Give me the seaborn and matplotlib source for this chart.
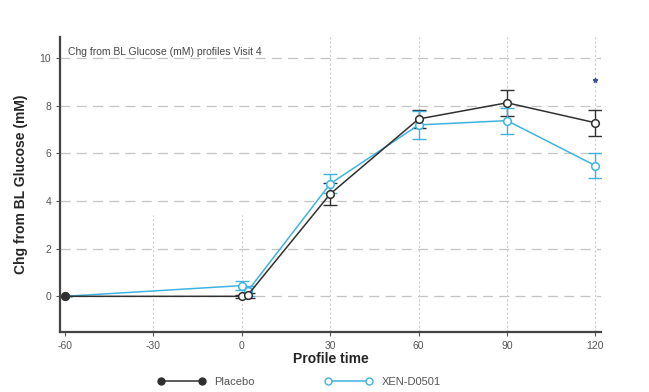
import numpy as np
import pandas as pd
import matplotlib
matplotlib.use("Agg")
import matplotlib.pyplot as plt
from matplotlib.lines import Line2D
import seaborn as sns

# Data
time = [-60, 0, 2, 30, 60, 90, 120]
placebo = [0.0, 0.0, 0.05, 4.3, 7.45, 8.13, 7.29]
placebo_err = [0.0, 0.05, 0.1, 0.45, 0.38, 0.55, 0.55]
xen = [0.0, 0.45, 0.22, 4.73, 7.2, 7.38, 5.49]
xen_err = [0.0, 0.2, 0.2, 0.4, 0.58, 0.55, 0.53]
star_time = [120]
star_value = [9.1]
x_ticks = [-60, -30, 0, 30, 60, 90, 120]
y_ticks = [0, 2, 4, 6, 8, 10]

black = "#303030"
blue = "#3fb3e0"

df = pd.DataFrame({
    "time": time * 2,
    "value": placebo + xen,
    "group": ["Placebo"] * len(time) + ["XEN-D0501"] * len(time),
})

sns.set_style("white")
plt.rcParams["font.family"] = ["Liberation Sans", "DejaVu Sans"]
plt.rcParams["axes.unicode_minus"] = False

fig = plt.figure(figsize=(6.49, 3.92), dpi=100)
ax = fig.add_axes([0.0925, 0.153, 0.834, 0.753])

# grid
for yt in y_ticks:
    ax.axhline(yt, color="#c4c4c4", lw=0.9, ls=(0, (8, 5)), zorder=0)
for xt in x_ticks[1:]:
    top = 0.395 if xt <= 0 else 1.0
    ax.axvline(xt, ymax=top, color="#cccccc", lw=0.8, ls=(0, (2, 2)), zorder=0)

# error bars
ax.errorbar(time, placebo, yerr=placebo_err, fmt="none", ecolor=black,
            elinewidth=1, capsize=5, capthick=1, zorder=2)
ax.errorbar(time, xen, yerr=xen_err, fmt="none", ecolor=blue,
            elinewidth=1, capsize=5, capthick=1, zorder=2)

sns.lineplot(data=df[df.group == "XEN-D0501"], x="time", y="value", ax=ax,
             color=blue, lw=1.1, marker="o", markersize=5.5,
             markerfacecolor="white", markeredgecolor=blue,
             markeredgewidth=1.1, zorder=3)
sns.lineplot(data=df[df.group == "Placebo"], x="time", y="value", ax=ax,
             color=black, lw=1.1, marker="o", markersize=5.5,
             markerfacecolor="white", markeredgecolor=black,
             markeredgewidth=1.1, zorder=4)
sns.scatterplot(x=time[:1], y=placebo[:1], ax=ax, color=black, s=25,
                edgecolor=black, zorder=5)

# significance marker
ax.scatter(star_time, star_value, marker="*", s=9, color="#3c4f8f", zorder=5)

ax.text(0.015, 0.965, "Chg from BL Glucose (mM) profiles Visit 4",
        transform=ax.transAxes, ha="left", va="top", fontsize=7.5,
        color="#444444")

ax.set_xlim(-61.7, 122)
ax.set_ylim(-1.5, 10.9)
ax.set_xticks(x_ticks)
ax.set_yticks(y_ticks)
ax.tick_params(axis="both", labelsize=7.5, labelcolor="#555555",
               color="#555555", length=3, width=0.8, bottom=True, left=True)
ax.set_xlabel("Profile time", fontsize=10, fontweight="bold", labelpad=1)
ax.set_ylabel("Chg from BL Glucose (mM)", fontsize=10, fontweight="bold",
              labelpad=8)

for side in ["top", "right"]:
    ax.spines[side].set_visible(False)
for side in ["left", "bottom"]:
    ax.spines[side].set_color("#444444")
    ax.spines[side].set_linewidth(1.6)

handles = [
    Line2D([], [], color=black, lw=1.1, marker="o", markersize=5,
           markerfacecolor=black, markeredgecolor=black),
    Line2D([], [], color=blue, lw=1.1, marker="o", markersize=5,
           markerfacecolor="white", markeredgecolor=blue),
]
fig.legend(handles, ["Placebo", "XEN-D0501"], loc="lower center",
           bbox_to_anchor=(0.461, -0.012), ncol=2, frameon=False, numpoints=2,
           handlelength=4.3, columnspacing=6.3, fontsize=8,
           labelcolor="#555555")

fig.savefig("out.png", dpi=100)
